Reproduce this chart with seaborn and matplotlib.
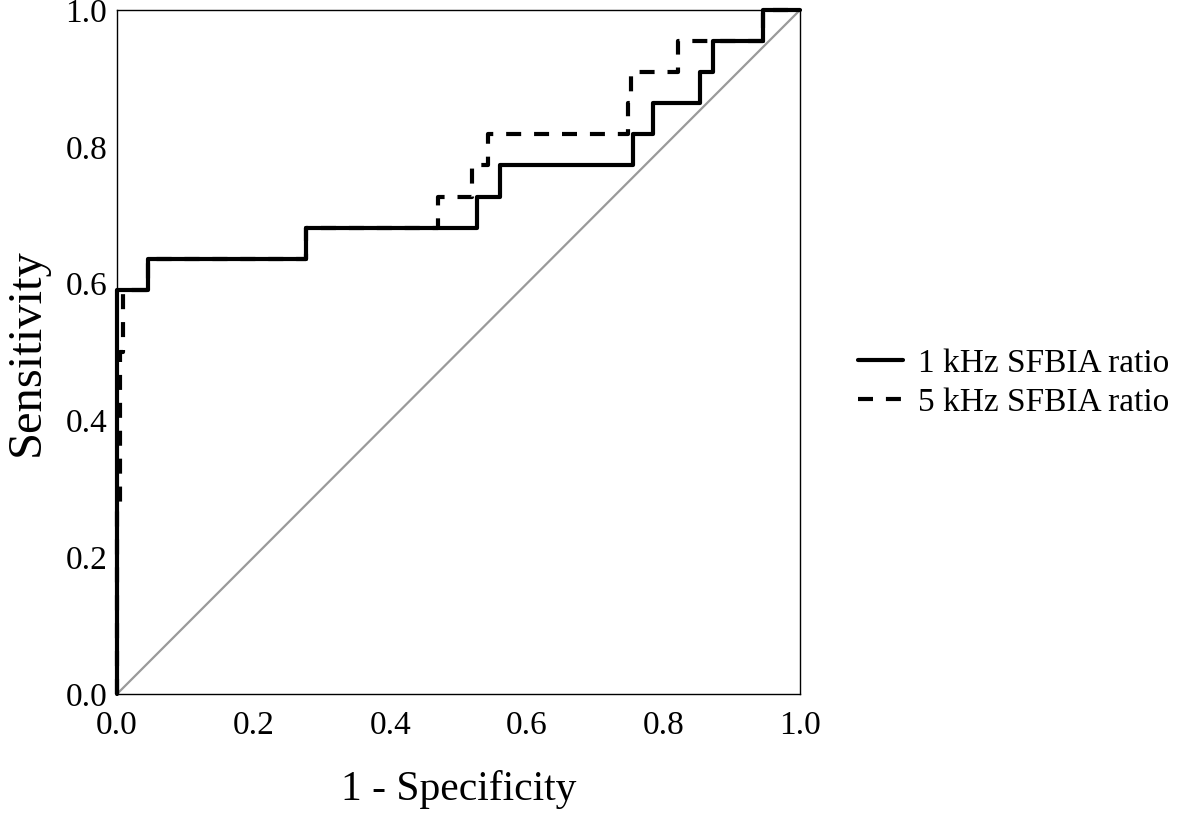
import matplotlib
matplotlib.use("Agg")
import matplotlib.pyplot as plt
import seaborn as sns
import pandas as pd

# ROC curve vertices (1 - specificity, sensitivity)
fpr_1k = [0.0, 0.0, 0.045, 0.045, 0.276, 0.276, 0.527, 0.527, 0.561, 0.561,
          0.756, 0.756, 0.785, 0.785, 0.854, 0.854, 0.873, 0.873, 0.946, 0.946, 1.0]
tpr_1k = [0.0, 0.591, 0.591, 0.636, 0.636, 0.682, 0.682, 0.727, 0.727, 0.773,
          0.773, 0.818, 0.818, 0.864, 0.864, 0.909, 0.909, 0.955, 0.955, 1.0, 1.0]

fpr_5k = [0.0, 0.0, 0.004, 0.004, 0.009, 0.009, 0.045, 0.045, 0.276, 0.276,
          0.470, 0.470, 0.520, 0.520, 0.543, 0.543, 0.748, 0.748, 0.752, 0.752,
          0.821, 0.821, 0.946, 0.946, 1.0]
tpr_5k = [0.0, 0.273, 0.273, 0.5, 0.5, 0.591, 0.591, 0.636, 0.636, 0.682,
          0.682, 0.727, 0.727, 0.773, 0.773, 0.818, 0.818, 0.864, 0.864, 0.909,
          0.909, 0.955, 0.955, 1.0, 1.0]

ref_x = [0.0, 1.0]
ref_y = [0.0, 1.0]

ticks = [0.0, 0.2, 0.4, 0.6, 0.8, 1.0]
tick_labels = ["0.0", "0.2", "0.4", "0.6", "0.8", "1.0"]

df1 = pd.DataFrame({"fpr": fpr_1k, "tpr": tpr_1k})
df5 = pd.DataFrame({"fpr": fpr_5k, "tpr": tpr_5k})
dref = pd.DataFrame({"fpr": ref_x, "tpr": ref_y})

sns.set_style("white", {"text.color": "black", "axes.labelcolor": "black",
                        "xtick.color": "black", "ytick.color": "black"})
plt.rcParams['font.family'] = ['Liberation Serif', 'DejaVu Serif']

fig = plt.figure(figsize=(11.81, 8.16), dpi=100)
ax = fig.add_axes([117/1181, 1 - 694/816, 683/1181, 684/816])

sns.lineplot(data=dref, x="fpr", y="tpr", sort=False, estimator=None,
             color="#9a9a9a", linewidth=1.6, ax=ax)
sns.lineplot(data=df5, x="fpr", y="tpr", sort=False, estimator=None,
             color="black", linewidth=3, ax=ax, label="5 kHz SFBIA ratio")
ax.lines[-1].set_dashes((3.6, 3.1))
ax.lines[-1].set_clip_on(False)
sns.lineplot(data=df1, x="fpr", y="tpr", sort=False, estimator=None,
             color="black", linewidth=3, ax=ax, label="1 kHz SFBIA ratio")
ax.lines[-1].set_clip_on(False)

ax.set_xlim(0, 1)
ax.set_ylim(0, 1)
ax.set_xticks(ticks)
ax.set_xticklabels(tick_labels)
ax.set_yticks(ticks)
ax.set_yticklabels(tick_labels)
ax.tick_params(axis='both', length=0, labelsize=24, labelcolor="black")
ax.tick_params(axis='x', pad=12)
ax.tick_params(axis='y', pad=7)
for s in ax.spines.values():
    s.set_color("black")
    s.set_linewidth(1.0)

ax.set_xlabel("1 - Specificity", fontsize=30, labelpad=21, color="black")
ax.set_ylabel("Sensitivity", fontsize=35, labelpad=12, color="black")

handles, labels = ax.get_legend_handles_labels()
leg = ax.legend(handles[::-1], labels[::-1], loc="center left",
                bbox_to_anchor=(858/1181, 1 - 383/816), bbox_transform=fig.transFigure,
                frameon=False, fontsize=24, handlelength=1.35, handletextpad=0.45,
                labelspacing=0.25, borderaxespad=0, borderpad=0)
for t in leg.get_texts():
    t.set_color("black")

fig.savefig("out.png", dpi=100)
